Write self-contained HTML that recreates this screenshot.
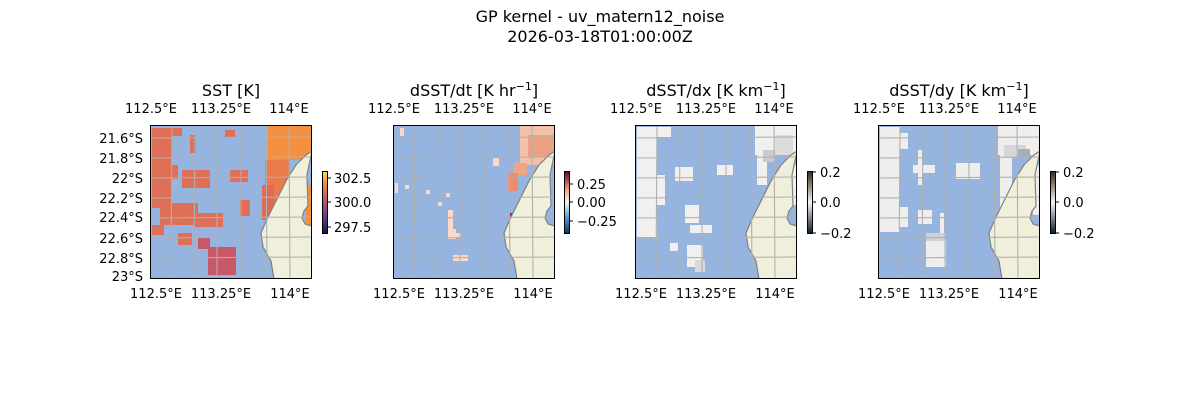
<!DOCTYPE html>
<html><head><meta charset="utf-8"><style>
body{margin:0;background:#fff;}
svg{display:block;font-family:"DejaVu Sans","Liberation Sans",sans-serif;}
</style></head><body>
<svg width="1200" height="400" viewBox="0 0 1200 400" xmlns="http://www.w3.org/2000/svg">
<defs>
<clipPath id="cp"><rect x="0" y="0" width="162" height="154"/></clipPath>
<linearGradient id="gsst" x1="0" y1="1" x2="0" y2="0"><stop offset="0" stop-color="#0d1a3a"/><stop offset="0.25" stop-color="#5a3a8a"/><stop offset="0.55" stop-color="#c05a6a"/><stop offset="0.8" stop-color="#f08a40"/><stop offset="1" stop-color="#f5e060"/></linearGradient>
<linearGradient id="grb" x1="0" y1="1" x2="0" y2="0"><stop offset="0" stop-color="#08306b"/><stop offset="0.3" stop-color="#6baed6"/><stop offset="0.5" stop-color="#f7f7f7"/><stop offset="0.7" stop-color="#f4a582"/><stop offset="1" stop-color="#67001f"/></linearGradient>
<linearGradient id="ggr" x1="0" y1="1" x2="0" y2="0"><stop offset="0" stop-color="#0a1a30"/><stop offset="0.5" stop-color="#f5f5f5"/><stop offset="1" stop-color="#3a2a10"/></linearGradient>
<g id="land">
<path d="M162,26 L156,30 L146,40 L137,54 L128,72 L118,92 L111,108 L113,122 L121,136 L124,154 L162,154 L162,101 L155,99 L152,93 L154,86 L158,81 L157,50 L162,26 Z" fill="#efefdc" stroke="#808080" stroke-width="1.2"/>
</g>
<g id="grid" stroke="#b0b0b0" stroke-width="1.1" fill="none">
<path d="M22,0 L21,154 M45,0 L44,154 M67,0 L67,154 M91,0 L91,154 M116,0 L117,154 M139,0 L140,154"/>
<path d="M0,13 L162,12 M0,33 L162,32 M0,53 L162,52 M0,73 L162,72 M0,93 L162,92 M0,113 L162,112 M0,133 L162,132"/>
</g>
</defs>
<text x="600" y="22" font-size="16" text-anchor="middle">GP kernel - uv_matern12_noise</text>
<text x="600" y="42" font-size="16" text-anchor="middle">2026-03-18T01:00:00Z</text>

<!-- Panel 1 -->
<g transform="translate(150,125)">
<g clip-path="url(#cp)">
<rect width="162" height="154" fill="#95b4df"/>
<g fill="#df7058">
<rect x="2" y="3" width="20" height="80"/><rect x="22" y="3" width="10" height="8"/>
<rect x="10" y="78" width="38" height="22"/><rect x="32" y="45" width="28" height="18"/>
<rect x="45" y="88" width="28" height="14"/>
<rect x="28" y="108" width="14" height="12"/>
<rect x="80" y="45" width="18" height="12"/><rect x="75" y="5" width="10" height="8"/>
<rect x="90" y="75" width="10" height="16"/><rect x="22" y="40" width="6" height="14"/>
<rect x="2" y="100" width="12" height="10"/><rect x="40" y="10" width="6" height="18"/>
</g>
<rect x="118" y="0" width="44" height="35" fill="#f39140"/>
<rect x="115" y="35" width="25" height="45" fill="#e87a4c"/>
<rect x="112" y="60" width="12" height="35" fill="#e06a52"/>
<rect x="156" y="60" width="6" height="45" fill="#f58f3a"/>
<g fill="#c85868"><rect x="58" y="122" width="28" height="28"/><rect x="48" y="112" width="12" height="12"/></g>
<use href="#land"/>
<use href="#grid"/>
</g>
<rect x="0.5" y="0.5" width="161" height="153" fill="none" stroke="#000" stroke-width="1"/>
</g>
<text x="231" y="96" font-size="16" text-anchor="middle">SST [K]</text>
<g font-size="13" text-anchor="middle">
<text x="151" y="113">112.5°E</text><text x="221" y="113">113.25°E</text><text x="289" y="113">114°E</text>
<text x="156" y="298">112.5°E</text><text x="221" y="298">113.25°E</text><text x="290" y="298">114°E</text>
</g>
<g font-size="13" text-anchor="end">
<text x="143" y="143">21.6°S</text><text x="143" y="163">21.8°S</text><text x="143" y="183">22°S</text><text x="143" y="203">22.2°S</text><text x="143" y="222">22.4°S</text><text x="143" y="243">22.6°S</text><text x="143" y="263">22.8°S</text><text x="143" y="281">23°S</text>
</g>
<rect x="322.5" y="171.5" width="5" height="62" fill="url(#gsst)" stroke="#000" stroke-width="1"/>
<g stroke="#000"><line x1="327" y1="178" x2="331" y2="178"/><line x1="327" y1="202" x2="331" y2="202"/><line x1="327" y1="227" x2="331" y2="227"/></g>
<g font-size="13"><text x="334" y="183">302.5</text><text x="334" y="207">300.0</text><text x="334" y="232">297.5</text></g>

<!-- Panel 2 -->
<g transform="translate(393,125)">
<g clip-path="url(#cp)">
<rect width="162" height="154" fill="#95b4df"/>
<rect x="127" y="0" width="35" height="40" fill="#f3c0a8"/>
<rect x="135" y="10" width="27" height="22" fill="#eca184"/>
<rect x="120" y="38" width="14" height="12" fill="#eea486"/>
<rect x="115" y="48" width="10" height="18" fill="#e88d70"/>
<g fill="#fbd9c8"><rect x="7" y="3" width="4" height="8"/><rect x="100" y="33" width="6" height="8"/><rect x="12" y="60" width="4" height="4"/><rect x="33" y="65" width="4" height="4"/><rect x="2" y="58" width="3" height="10"/><rect x="53" y="68" width="4" height="4"/><rect x="45" y="77" width="4" height="4"/><rect x="55" y="85" width="5" height="28"/><rect x="55" y="104" width="8" height="10"/><rect x="62" y="108" width="6" height="4"/><rect x="60" y="130" width="15" height="6"/></g>
<g fill="#a8152a"><rect x="117" y="88" width="3" height="12"/><rect x="155" y="30" width="3" height="18"/><rect x="152" y="48" width="4" height="14"/><rect x="156" y="100" width="4" height="5"/></g>
<use href="#land"/>
<use href="#grid"/>
</g>
<rect x="0.5" y="0.5" width="161" height="153" fill="none" stroke="#000"/>
</g>
<text x="474" y="96" font-size="16" text-anchor="middle">dSST/dt [K hr<tspan font-size="11" dy="-6">−1</tspan><tspan dy="6">]</tspan></text>
<g font-size="13" text-anchor="middle">
<text x="394" y="113">112.5°E</text><text x="464" y="113">113.25°E</text><text x="532" y="113">114°E</text>
<text x="399" y="298">112.5°E</text><text x="464" y="298">113.25°E</text><text x="533" y="298">114°E</text>
</g>
<rect x="564.5" y="171.5" width="5" height="62" fill="url(#grb)" stroke="#000"/>
<g stroke="#000"><line x1="569" y1="184" x2="573" y2="184"/><line x1="569" y1="202" x2="573" y2="202"/><line x1="569" y1="221" x2="573" y2="221"/></g>
<g font-size="13"><text x="577" y="189">0.25</text><text x="577" y="207">0.00</text><text x="577" y="226">−0.25</text></g>

<!-- Panel 3 -->
<g transform="translate(635,125)">
<g clip-path="url(#cp)">
<rect width="162" height="154" fill="#95b4df"/>
<g fill="#f2f0ee">
<rect x="2" y="2" width="20" height="110"/><rect x="22" y="2" width="14" height="10"/><rect x="22" y="50" width="8" height="30"/>
<rect x="40" y="42" width="18" height="14"/><rect x="82" y="40" width="16" height="10"/><rect x="120" y="0" width="42" height="30"/>
<rect x="122" y="30" width="10" height="30"/><rect x="55" y="100" width="22" height="8"/>
<rect x="50" y="80" width="14" height="18"/><rect x="52" y="120" width="16" height="22"/>
<rect x="35" y="118" width="8" height="8"/><rect x="155" y="40" width="7" height="40"/></g>
<rect x="140" y="10" width="18" height="20" fill="#dcdcdc"/>
<rect x="128" y="25" width="12" height="12" fill="#c8cad0"/>
<rect x="60" y="135" width="10" height="12" fill="#d8d8d8"/>
<use href="#land"/>
<use href="#grid"/>
</g>
<rect x="0.5" y="0.5" width="161" height="153" fill="none" stroke="#000"/>
</g>
<text x="716" y="96" font-size="16" text-anchor="middle">dSST/dx [K km<tspan font-size="11" dy="-6">−1</tspan><tspan dy="6">]</tspan></text>
<g font-size="13" text-anchor="middle">
<text x="636" y="113">112.5°E</text><text x="706" y="113">113.25°E</text><text x="774" y="113">114°E</text>
<text x="641" y="298">112.5°E</text><text x="706" y="298">113.25°E</text><text x="775" y="298">114°E</text>
</g>
<rect x="807.5" y="171.5" width="5" height="62" fill="url(#ggr)" stroke="#000"/>
<g stroke="#000"><line x1="812" y1="172" x2="816" y2="172"/><line x1="812" y1="202" x2="816" y2="202"/><line x1="812" y1="233" x2="816" y2="233"/></g>
<g font-size="13"><text x="820" y="177">0.2</text><text x="820" y="207">0.0</text><text x="820" y="238">−0.2</text></g>

<!-- Panel 4 -->
<g transform="translate(878,125)">
<g clip-path="url(#cp)">
<rect width="162" height="154" fill="#95b4df"/>
<g fill="#f0eeec">
<rect x="2" y="2" width="20" height="105"/><rect x="22" y="8" width="8" height="16"/><rect x="35" y="40" width="22" height="8"/>
<rect x="40" y="25" width="4" height="35"/><rect x="78" y="38" width="24" height="16"/><rect x="120" y="0" width="42" height="30"/>
<rect x="122" y="30" width="12" height="60"/><rect x="155" y="40" width="7" height="50"/><rect x="40" y="85" width="14" height="14"/>
<rect x="48" y="110" width="20" height="32"/><rect x="20" y="82" width="10" height="20"/><rect x="62" y="88" width="4" height="24"/></g>
<rect x="126" y="20" width="22" height="12" fill="#d4d6da"/>
<rect x="140" y="24" width="12" height="8" fill="#a8aeb8"/>
<rect x="48" y="108" width="20" height="8" fill="#cfd1d5"/>
<use href="#land"/>
<use href="#grid"/>
</g>
<rect x="0.5" y="0.5" width="161" height="153" fill="none" stroke="#000"/>
</g>
<text x="959" y="96" font-size="16" text-anchor="middle">dSST/dy [K km<tspan font-size="11" dy="-6">−1</tspan><tspan dy="6">]</tspan></text>
<g font-size="13" text-anchor="middle">
<text x="879" y="113">112.5°E</text><text x="949" y="113">113.25°E</text><text x="1017" y="113">114°E</text>
<text x="884" y="298">112.5°E</text><text x="949" y="298">113.25°E</text><text x="1018" y="298">114°E</text>
</g>
<rect x="1050.5" y="171.5" width="5" height="62" fill="url(#ggr)" stroke="#000"/>
<g stroke="#000"><line x1="1055" y1="172" x2="1059" y2="172"/><line x1="1055" y1="202" x2="1059" y2="202"/><line x1="1055" y1="233" x2="1059" y2="233"/></g>
<g font-size="13"><text x="1063" y="177">0.2</text><text x="1063" y="207">0.0</text><text x="1063" y="238">−0.2</text></g>
</svg>
</body></html>
